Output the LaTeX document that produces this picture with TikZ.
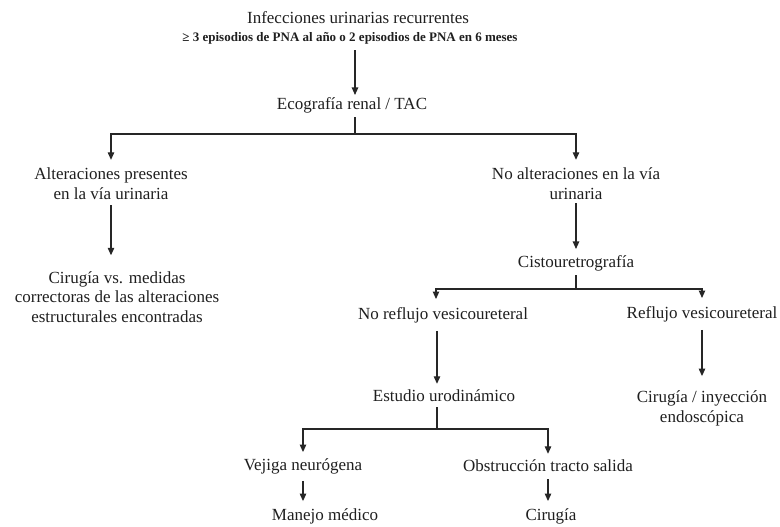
\documentclass[tikz,border=0pt]{standalone}
\usepackage{fontspec}
\setmainfont{Liberation Serif}
\usetikzlibrary{arrows.meta,calc}
\begin{document}
\begin{tikzpicture}[x=1pt,y=-1pt,
  txt/.style={font=\fontsize{17}{20}\selectfont, align=center, inner sep=0pt, text=black!88},
  sml/.style={font=\fontsize{13}{14}\selectfont\bfseries, inner sep=0pt, text=black!88},
  ln/.style={line width=1.1pt, draw=black!85},
  arr/.style={ln, -{Triangle[length=7.5pt,width=6.5pt]}}]
\useasboundingbox (0,0) rectangle (780,527);
\node[txt] (inf) at (358,18) {Infecciones urinarias recurrentes};
\node[sml] (sub) at (350,38) {≥ 3 episodios de PNA al año o 2 episodios de PNA en 6 meses};
\node[txt] (eco) at (352,105) {Ecografía renal / TAC};
\node[txt] (alt) at (111,184) {Alteraciones presentes\\en la vía urinaria};
\node[txt, font=\fontsize{17}{19.5}\selectfont] (corr) at (117,297) {Cirugía vs. medidas\\correctoras de las alteraciones\\estructurales encontradas};
\node[txt] (noalt) at (576,184) {No alteraciones en la vía\\urinaria};
\node[txt] (cisto) at (576,263) {Cistouretrografía};
\node[txt] (noref) at (443,315) {No reflujo vesicoureteral};
\node[txt] (ref) at (702,314) {Reflujo vesicoureteral};
\node[txt] (est) at (444,396) {Estudio urodinámico};
\node[txt] (iny) at (702,408) {Cirugía / inyección\\endoscópica};
\node[txt] (vej) at (303,466) {Vejiga neurógena};
\node[txt] (obs) at (548,466) {Obstrucción tracto salida};
\node[txt] (man) at (325,516) {Manejo médico};
\node[txt] (cirg) at (551,516) {Cirugía};
\coordinate (j1) at (355,134);
\coordinate (j2) at (576,289);
\coordinate (j3) at (437,429);
\draw[arr, shorten <=6pt, shorten >=2pt] (sub.south -| j1) -- (eco.north -| j1);
\draw[ln, shorten <=4pt] (eco.south -| j1) -- (j1);
\draw[arr, shorten >=8pt] (j1) -| (alt.north);
\draw[arr, shorten >=8pt] (j1) -| (noalt.north);
\draw[arr, shorten <=5pt, shorten >=16pt] (alt.south) -- (alt.south |- corr.north);
\draw[arr, shorten <=3pt, shorten >=6pt] (noalt.south) -- (cisto.north);
\draw[ln, shorten <=4pt] (cisto.south) -- (j2);
\draw[arr, shorten >=8pt] (j2) -| ([xshift=-7pt]noref.north);
\draw[arr, shorten >=8pt] (j2) -| (ref.north);
\draw[arr, shorten <=8pt, shorten >=6pt] ([xshift=-6pt]noref.south) -- ([xshift=-7pt]est.north);
\draw[arr, shorten <=8pt, shorten >=14pt] (ref.south) -- (iny.north);
\draw[ln, shorten <=5pt] (est.south -| j3) -- (j3);
\draw[arr, shorten >=6pt] (j3) -| (vej.north);
\draw[arr, shorten >=6pt] (j3) -| (obs.north);
\draw[arr, shorten <=7pt, shorten >=7pt] (vej.south) -- (vej.south |- man.north);
\draw[arr, shorten <=7pt, shorten >=7pt] (obs.south) -- (obs.south |- cirg.north);
\end{tikzpicture}
\end{document}
